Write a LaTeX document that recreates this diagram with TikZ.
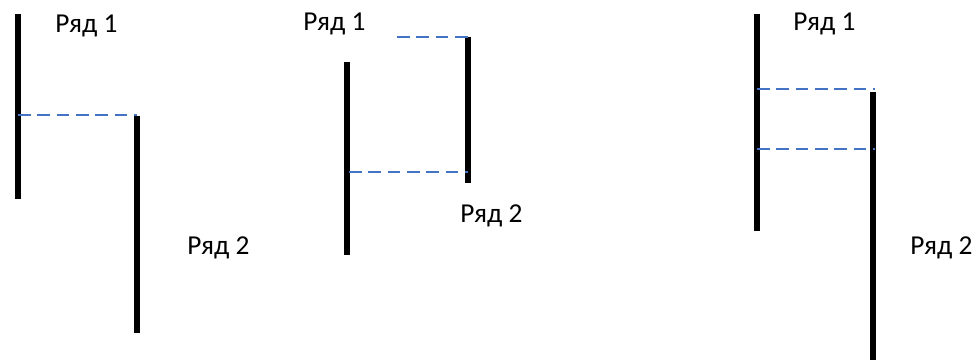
\documentclass[tikz,border=0pt]{standalone}
\usepackage{fontspec}
\setmainfont{Carlito}
\definecolor{dashblue}{HTML}{4472C4}
\tikzset{
  bar/.style={line width=3.9pt, black},
  guide/.style={line width=1.2pt, dashblue, dash pattern=on 9.5pt off 5pt},
  lbl/.style={anchor=base west, inner sep=0pt, font=\fontsize{20.5}{22}\selectfont}
}
\begin{document}
\begin{tikzpicture}[x=0.75pt,y=-0.75pt]
\useasboundingbox (0,0) rectangle (977,360);
% panel 1
\coordinate (a1) at (18,14);
\coordinate (a2) at (18,199);
\coordinate (b1) at (137,116);
\coordinate (b2) at (137,333);
\coordinate (ad) at (18,115);
\coordinate (bd) at (137,115);
\draw[bar] (a1) -- (a2);
\draw[bar] (b1) -- (b2);
\draw[guide] (ad) -- (bd);
\node[lbl] (l11) at (55,33) {Ряд 1};
\node[lbl] (l12) at (187,254) {Ряд 2};
% panel 2
\coordinate (c1) at (347,62);
\coordinate (c2) at (347,255);
\coordinate (d1) at (468,37);
\coordinate (d2) at (468,183);
\coordinate (cd) at (397,37);
\coordinate (ce) at (349,172);
\coordinate (de) at (468,172);
\draw[bar] (c1) -- (c2);
\draw[bar] (d1) -- (d2);
\draw[guide] (cd) -- (d1);
\draw[guide] (ce) -- (de);
\node[lbl] (l21) at (303,31) {Ряд 1};
\node[lbl] (l22) at (460,222) {Ряд 2};
% panel 3
\coordinate (e1) at (757,14);
\coordinate (e2) at (757,231);
\coordinate (f1) at (873,92);
\coordinate (f2) at (873,360);
\coordinate (e3) at (757,89);
\coordinate (f3) at (875,89);
\coordinate (e4) at (757,149);
\coordinate (f4) at (875,149);
\draw[bar] (e1) -- (e2);
\draw[bar] (f1) -- (f2);
\draw[guide] (e3) -- (f3);
\draw[guide] (e4) -- (f4);
\node[lbl] (l31) at (793,31) {Ряд 1};
\node[lbl] (l32) at (910,254) {Ряд 2};
\end{tikzpicture}
\end{document}
